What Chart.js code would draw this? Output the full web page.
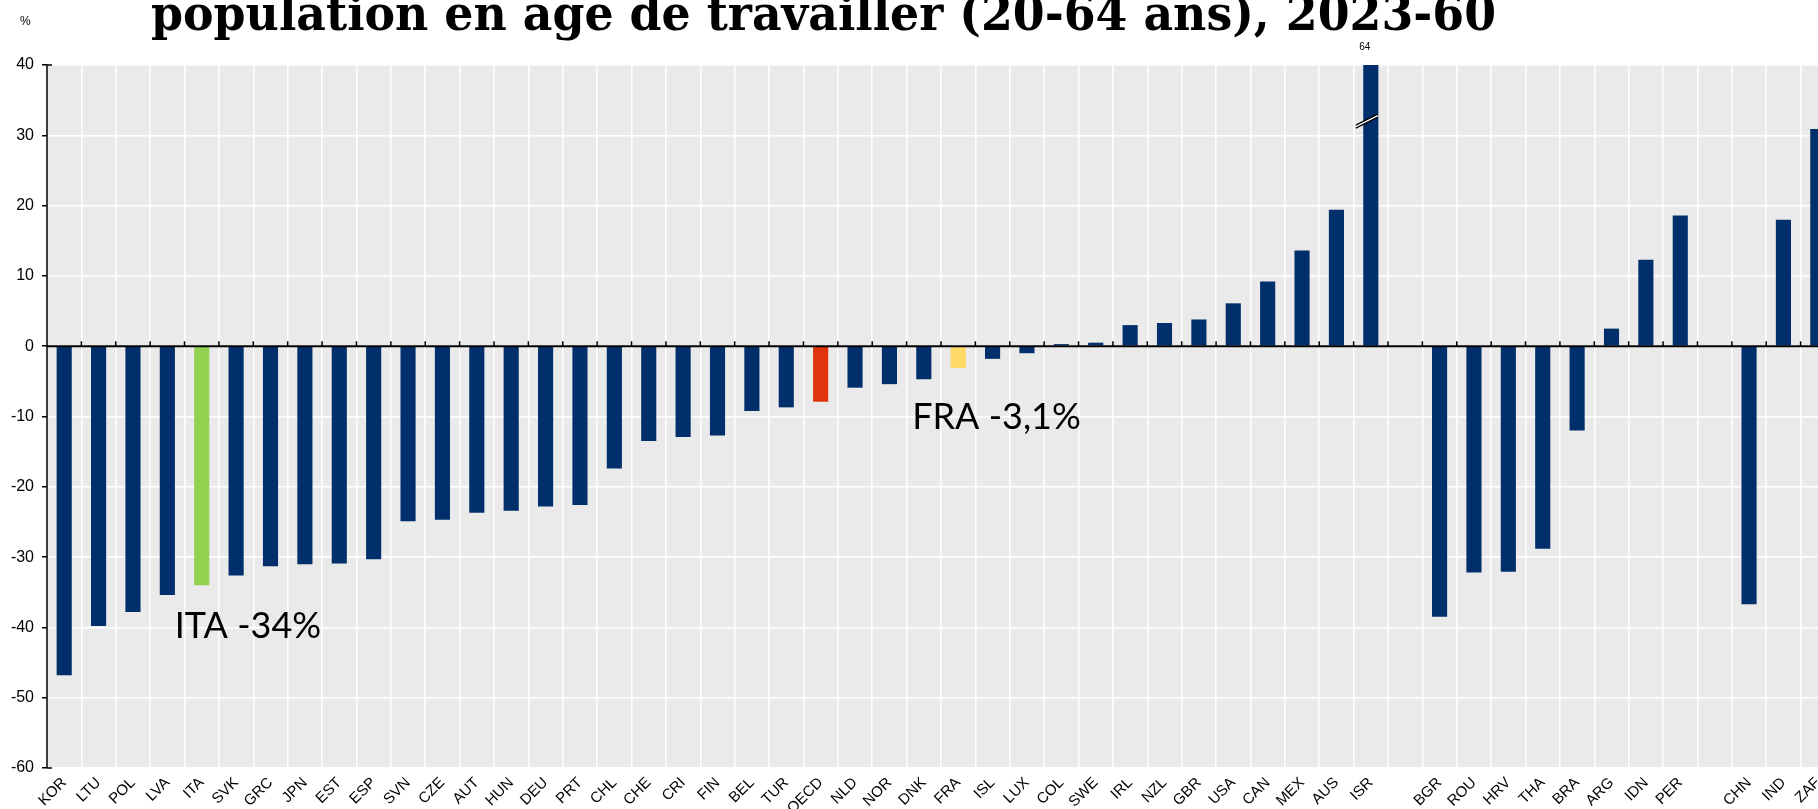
<!DOCTYPE html>
<html lang="fr">
<head>
<meta charset="utf-8">
<title>Population en âge de travailler</title>
<script src="https://cdn.jsdelivr.net/npm/chart.js@4/dist/chart.umd.min.js"></script>
<style>
  html, body { margin: 0; padding: 0; background: #fff; overflow: hidden; }
  #wrap { width: 1818px; height: 809px; overflow: hidden; }
  canvas { display: block; }
</style>
</head>
<body>
<div id="wrap"><canvas id="chart" width="1840" height="809"></canvas></div>
<script>
const titleText = 'population en âge de travailler (20-64 ans), 2023-60';

const categories = [
  'KOR', 'LTU', 'POL', 'LVA', 'ITA', 'SVK', 'GRC', 'JPN', 'EST', 'ESP',
  'SVN', 'CZE', 'AUT', 'HUN', 'DEU', 'PRT', 'CHL', 'CHE', 'CRI', 'FIN',
  'BEL', 'TUR', 'OECD', 'NLD', 'NOR', 'DNK', 'FRA', 'ISL', 'LUX', 'COL',
  'SWE', 'IRL', 'NZL', 'GBR', 'USA', 'CAN', 'MEX', 'AUS', 'ISR', '',
  'BGR', 'ROU', 'HRV', 'THA', 'BRA', 'ARG', 'IDN', 'PER', '',
  'CHN', 'IND', 'ZAF'
];

const changes = [
  -46.8, -39.8, -37.8, -35.4, -34.0, -32.6, -31.3, -31.0, -30.9, -30.3,
  -24.9, -24.7, -23.7, -23.4, -22.8, -22.6, -17.4, -13.5, -12.9, -12.7,
  -9.2, -8.7, -7.9, -5.9, -5.4, -4.7, -3.1, -1.8, -1.0, 0.3,
  0.5, 3.0, 3.3, 3.8, 6.1, 9.2, 13.6, 19.4, 64, null,
  -38.5, -32.2, -32.1, -28.8, -12.0, 2.5, 12.3, 18.6, null,
  -36.7, 18.0, 30.9
];

const yTicks = [-60, -50, -40, -30, -20, -10, 0, 10, 20, 30, 40];

const callouts = [
  { cat: 'ITA', text: 'ITA -34%', value: -41.5, dx: -27 },
  { cat: 'FRA', text: 'FRA -3,1%', value: -11.8, dx: -46 }
];

const navy = '#002F6C';
const highlight = { ITA: '#92D050', OECD: '#E2330F', FRA: '#FFD966' };
const barColors = categories.map(c => highlight[c] || navy);

// plot background, axis lines, break mark and annotations
const decor = {
  id: 'decor',
  beforeDraw(chart) {
    const { ctx, chartArea: a } = chart;
    ctx.save();
    ctx.fillStyle = '#EAEAEA';
    ctx.fillRect(a.left, a.top, a.right - a.left, a.bottom - a.top);
    ctx.restore();
  },
  afterDatasetsDraw(chart) {
    const { ctx, chartArea: a } = chart;
    const x = chart.scales.x, y = chart.scales.y;
    const zero = y.getPixelForValue(0);
    const step = x.getPixelForValue(1) - x.getPixelForValue(0);
    ctx.save();

    // zero line with small ticks between categories
    ctx.strokeStyle = '#000';
    ctx.lineWidth = 2;
    ctx.beginPath();
    ctx.moveTo(a.left, zero);
    ctx.lineTo(a.right, zero);
    ctx.stroke();
    ctx.lineWidth = 1.5;
    ctx.beginPath();
    for (let i = 1; i < categories.length; i++) {
      const px = x.getPixelForValue(i) - step / 2;
      ctx.moveTo(px, zero);
      ctx.lineTo(px, zero - 5);
    }
    ctx.stroke();

    // left axis line
    ctx.lineWidth = 1.5;
    ctx.beginPath();
    ctx.moveTo(a.left, a.top);
    ctx.lineTo(a.left, a.bottom);
    ctx.moveTo(a.left, a.top);
    ctx.lineTo(a.left + 5, a.top);
    ctx.moveTo(a.left, a.bottom);
    ctx.lineTo(a.left + 5, a.bottom);
    ctx.stroke();

    // bars running off the top: break mark and value
    const meta = chart.getDatasetMeta(0);
    changes.forEach((v, i) => {
      if (v === null || v <= y.max) return;
      const bar = meta.data[i];
      const cx = bar.x;
      const by = y.getPixelForValue(32.3);
      ctx.fillStyle = '#fff';
      ctx.beginPath();
      ctx.moveTo(cx - 15, by + 6);
      ctx.lineTo(cx + 7, by - 5);
      ctx.lineTo(cx + 7, by - 2);
      ctx.lineTo(cx - 15, by + 9);
      ctx.closePath();
      ctx.fill();
      ctx.strokeStyle = '#000';
      ctx.lineWidth = 1.2;
      ctx.beginPath();
      ctx.moveTo(cx - 15, by + 6);
      ctx.lineTo(cx + 7, by - 5);
      ctx.moveTo(cx - 15, by + 9);
      ctx.lineTo(cx + 7, by - 2);
      ctx.stroke();
      ctx.fillStyle = '#000';
      ctx.font = '10px "Liberation Sans Narrow", "Liberation Sans", Arial, sans-serif';
      ctx.textAlign = 'center';
      ctx.textBaseline = 'middle';
      ctx.fillText(String(v), cx - 6, a.top - 18);
    });

    // callouts
    ctx.fillStyle = '#000';
    ctx.textAlign = 'left';
    ctx.textBaseline = 'alphabetic';
    callouts.forEach(c => {
      const i = categories.indexOf(c.cat);
      const px = x.getPixelForValue(i) + c.dx;
      const py = y.getPixelForValue(c.value);
      ctx.font = '36px Lato, "Open Sans", sans-serif';
      ctx.fillText(c.text, px, py);
    });
    ctx.restore();
  },
  afterDraw(chart) {
    const { ctx } = chart;
    ctx.save();
    // unit label
    ctx.fillStyle = '#000';
    ctx.font = '12px "Liberation Sans", Arial, sans-serif';
    ctx.textAlign = 'left';
    ctx.textBaseline = 'middle';
    ctx.fillText('%', 20, 22);

    // title, cut by the top edge as in the slide
    ctx.font = 'bold 48px "DejaVu Serif", "Liberation Serif", serif';
    const w = ctx.measureText(titleText).width;
    ctx.translate(151, 30);
    ctx.scale(1345 / w, 1);
    ctx.textBaseline = 'alphabetic';
    ctx.fillText(titleText, 0, 0);
    ctx.restore();
  }
};

new Chart(document.getElementById('chart'), {
  type: 'bar',
  data: {
    labels: categories,
    datasets: [{
      data: changes,
      backgroundColor: barColors,
      borderWidth: 0,
      barPercentage: 0.44,
      categoryPercentage: 1.0,
      clip: 0
    }]
  },
  options: {
    responsive: false,
    animation: false,
    layout: { padding: { top: 65, right: 5, left: 0, bottom: 0 } },
    scales: {
      x: {
        offset: true,
        grid: { color: '#FFFFFF', lineWidth: 1.5, offset: true, drawTicks: false },
        border: { display: false },
        ticks: {
          autoSkip: false,
          minRotation: 45,
          maxRotation: 45,
          padding: 6,
          color: '#000',
          font: { family: '"Liberation Sans", Arial, sans-serif', size: 15 }
        },
        afterFit(scale) { scale.height = 41; }
      },
      y: {
        min: yTicks[0],
        max: yTicks[yTicks.length - 1],
        afterBuildTicks(scale) { scale.ticks = yTicks.map(v => ({ value: v })); },
        grid: { color: '#FFFFFF', lineWidth: 1.5, tickColor: '#000', tickLength: 5 },
        border: { display: false },
        ticks: {
          padding: 8,
          color: '#000',
          font: { family: '"Liberation Sans Narrow", "Liberation Sans", Arial, sans-serif', size: 16 }
        },
        afterFit(scale) { scale.width = 47; }
      }
    },
    plugins: {
      legend: { display: false },
      tooltip: { enabled: false }
    }
  },
  plugins: [decor]
});
</script>
</body>
</html>
